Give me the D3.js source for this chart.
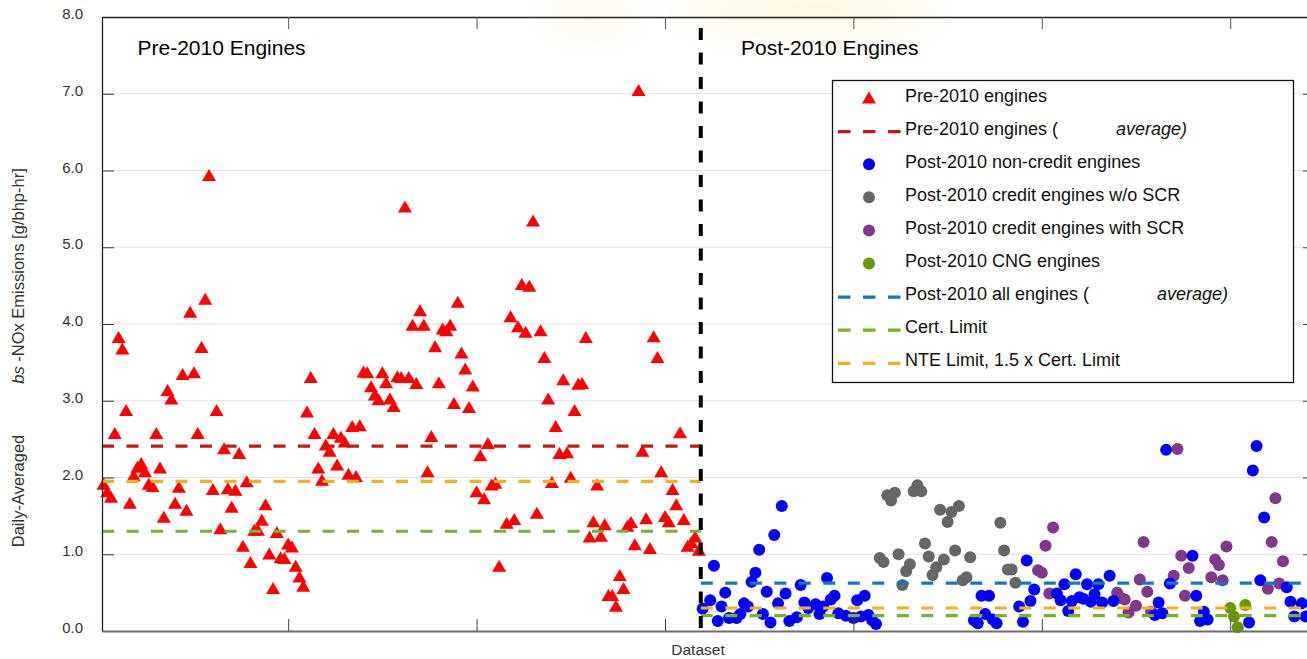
<!DOCTYPE html>
<html>
<head>
<meta charset="utf-8">
<script src="https://cdn.jsdelivr.net/npm/d3@7"></script>
<style>
  html, body { margin: 0; padding: 0; background: #fff; }
  svg { display: block; font-family: "Liberation Sans", Arial, Helvetica, sans-serif; }
</style>
</head>
<body>
<svg id="chart" width="1307" height="659"></svg>
<script>
// ---- data ---------------------------------------------------------------
const yTicks = [0, 1, 2, 3, 4, 5, 6, 7, 8];
const gridValues = [1, 2, 3, 4, 5, 6, 7];
const xTicks = [50, 100, 150, 200, 250, 300];

// [dataset number, daily-averaged bsNOx g/bhp-hr]
const preEngines = [
  [1,1.92],[2,1.82],[3,1.75],[4,2.58],[5,3.83],[6,3.68],[7,2.88],[8,1.67],[9,2.03],[10,2.14],
  [11,2.19],[12,2.08],[13,1.92],[14,1.89],[15,2.58],[16,2.13],[17,1.49],[18,3.14],[19,3.03],[20,1.67],
  [21,1.88],[22,3.35],[23,1.58],[24,4.16],[25,3.37],[26,2.58],[27,3.70],[28,4.33],[29,5.94],[30,1.85],
  [31,2.88],[32,1.34],[33,2.38],[34,1.86],[35,1.62],[36,1.84],[37,2.32],[38,1.11],[39,1.95],[40,0.90],
  [41,1.32],[42,1.32],[43,1.45],[44,1.65],[45,1.01],[46,0.56],[47,1.29],[48,0.96],[49,0.95],[50,1.14],
  [51,1.10],[52,0.85],[53,0.71],[54,0.59],[55,2.86],[56,3.31],[57,2.58],[58,2.13],[59,1.97],[60,2.43],
  [61,2.35],[62,2.58],[63,2.17],[64,2.53],[65,2.47],[66,2.05],[67,2.67],[68,2.02],[69,2.68],[70,3.38],
  [71,3.37],[72,3.19],[73,3.08],[74,3.02],[75,3.37],[76,3.24],[77,3.03],[78,2.93],[79,3.32],[80,3.31],
  [81,5.53],[82,3.31],[83,3.99],[84,3.23],[85,4.18],[86,3.99],[87,2.08],[88,2.54],[89,3.71],[90,3.24],
  [91,3.94],[92,3.92],[93,3.99],[94,2.97],[95,4.29],[96,3.63],[97,3.42],[98,2.92],[99,3.20],[100,1.82],
  [101,2.29],[102,1.73],[103,2.45],[104,1.91],[105,1.93],[106,0.85],[108,1.41],[109,4.10],[110,1.46],
  [111,3.97],[112,4.52],[113,3.90],[114,4.50],[115,5.35],[116,1.54],[117,3.92],[118,3.57],[119,3.03],
  [120,1.94],[121,2.67],[122,2.32],[123,3.28],[124,2.33],[125,2.01],[126,2.88],[127,3.22],[128,3.23],
  [129,3.83],[130,1.23],[131,1.43],[132,1.91],[133,1.24],[134,1.39],[135,0.47],[136,0.47],[137,0.33],
  [138,0.73],[139,0.56],[140,1.37],[141,1.42],[142,1.13],[143,7.05],[144,2.35],[145,1.47],[146,1.08],
  [147,3.84],[148,3.57],[149,2.08],[150,1.50],[151,1.43],[152,1.85],[153,1.65],[154,2.59],[155,1.46],
  [156,1.11],[157,1.16],[158,1.23],[159,1.06]
];

const postNonCredit = [
  [160,0.29],[162,0.40],[163,0.85],[164,0.13],[165,0.32],[166,0.50],[167,0.17],[169,0.17],[170,0.22],
  [171,0.36],[172,0.32],[173,0.64],[174,0.76],[175,1.06],[176,0.22],[177,0.51],[178,0.11],[179,1.25],
  [180,0.36],[181,1.63],[182,0.49],[183,0.13],[185,0.18],[186,0.60],[187,0.37],[188,0.30],[190,0.35],
  [191,0.22],[192,0.32],[193,0.69],[194,0.41],[195,0.46],[196,0.23],[198,0.20],[200,0.17],[201,0.40],
  [202,0.19],[203,0.46],[204,0.21],[205,0.14],[206,0.09],
  [232,0.14],[233,0.10],[234,0.46],[235,0.22],[236,0.46],[237,0.15],[238,0.10],
  [244,0.32],[245,0.12],[246,0.92],[247,0.39],[248,0.54],
  [254,0.49],[255,0.40],[256,0.61],[257,0.26],[258,0.39],[259,0.74],[260,0.44],[261,0.42],[262,0.61],
  [263,0.38],[264,0.48],[265,0.61],[266,0.37],[268,0.72],[269,0.39],
  [280,0.21],[281,0.37],[282,0.23],[283,2.36],[284,0.62],
  [290,0.98],[291,0.46],[292,0.13],[293,0.25],[294,0.15],
  [305,0.11],[306,2.09],[307,2.41],[308,0.66],[309,1.48],
  [315,0.57],[316,0.38],[317,0.19],[319,0.36],[320,0.19]
];

const postCreditNoScr = [
  [207,0.95],[208,0.90],[209,1.77],[210,1.70],[211,1.80],[212,1.00],[213,0.60],[214,0.78],[215,0.87],
  [216,1.82],[217,1.90],[218,1.82],[219,1.14],[220,0.97],[221,0.73],[222,0.83],[223,1.58],[224,0.93],
  [225,1.42],[226,1.55],[227,1.05],[228,1.63],[229,0.66],[230,0.70],[231,0.96],
  [239,1.41],[240,1.05],[241,0.80],[242,0.80],[243,0.63]
];

const postCreditScr = [
  [249,0.79],[250,0.76],[251,1.11],[252,0.49],[253,1.35],
  [270,0.50],[271,0.43],[272,0.41],[273,0.24],[275,0.33],[276,0.67],[277,1.16],[278,0.51],[279,0.25],
  [285,0.72],[286,2.37],[287,0.98],[288,0.46],[289,0.82],
  [295,0.70],[296,0.93],[297,0.86],[298,0.66],[299,1.10],
  [310,0.55],[311,1.16],[312,1.73],[313,0.62],[314,0.91]
];

const postCng = [[300,0.30],[301,0.19],[302,0.05],[304,0.34]];

// reference levels
const preAverage = 2.41;
const postAverage = 0.625;
const certLimitPre = 1.30;
const certLimitPost = 0.20;
const nteFactor = 1.5;
const splitAt = 159.5;

const colors = {
  pre: "#ff0000", nonCredit: "#0000ff", noScr: "#666666", scr: "#80378c", cng: "#669900",
  preAvg: "#cc1515", postAvg: "#1478c0", cert: "#78b030", nte: "#f0b020"
};

// ---- layout ---------------------------------------------------------------
const svg = d3.select("#chart");
const L = 102, R = 1315, T = 17, B = 631;
const x = d3.scaleLinear().domain([0.6, 322.5]).range([L, R]);
const y = d3.scaleLinear().domain([0, 8]).range([B, T]);

// faint background glow near the top
const defs = svg.append("defs");
defs.append("filter").attr("id", "soft").attr("x", "-50%").attr("y", "-50%").attr("width", "200%").attr("height", "200%")
  .append("feGaussianBlur").attr("stdDeviation", 18);
const glow = svg.append("g").attr("filter", "url(#soft)").attr("opacity", 0.12);
glow.append("ellipse").attr("cx", 810).attr("cy", 10).attr("rx", 130).attr("ry", 26).attr("fill", "#f3c640");
glow.append("ellipse").attr("cx", 590).attr("cy", 16).attr("rx", 45).attr("ry", 18).attr("fill", "#f3c640");

// horizontal grid
svg.append("g").selectAll("line").data(gridValues).join("line")
  .attr("x1", L).attr("x2", R)
  .attr("y1", d => y(d)).attr("y2", d => y(d))
  .attr("stroke", "#e2e2e2").attr("stroke-width", 1.2);

// ---- markers ---------------------------------------------------------------
const tri = "M0,-6L7,6L-7,6Z";
svg.append("g").selectAll("path").data(preEngines).join("path")
  .attr("d", tri)
  .attr("transform", d => `translate(${x(d[0])},${y(d[1])})`)
  .attr("fill", colors.pre);

function dots(data, color) {
  svg.append("g").selectAll("circle").data(data).join("circle")
    .attr("cx", d => x(d[0])).attr("cy", d => y(d[1])).attr("r", 6)
    .attr("fill", color);
}
dots(postCreditNoScr, colors.noScr);
dots(postCreditScr, colors.scr);
dots(postCng, colors.cng);
dots(postNonCredit, colors.nonCredit);

// ---- reference lines ---------------------------------------------------------
const refLines = [
  { from: 0.6, to: splitAt, v: preAverage, c: colors.preAvg },
  { from: 0.6, to: splitAt, v: certLimitPre * nteFactor, c: colors.nte },
  { from: 0.6, to: splitAt, v: certLimitPre, c: colors.cert },
  { from: splitAt, to: 322.5, v: postAverage, c: colors.postAvg },
  { from: splitAt, to: 322.5, v: certLimitPost * nteFactor, c: colors.nte },
  { from: splitAt, to: 322.5, v: certLimitPost, c: colors.cert }
];
svg.append("g").selectAll("line").data(refLines).join("line")
  .attr("x1", d => x(d.from)).attr("x2", d => x(d.to))
  .attr("y1", d => y(d.v)).attr("y2", d => y(d.v))
  .attr("stroke", d => d.c).attr("stroke-width", 3.2)
  .attr("stroke-dasharray", "12,12.5");

// ---- axes ---------------------------------------------------------------
const gLeft = svg.append("g").attr("transform", `translate(${L},0)`)
  .call(d3.axisLeft(y).tickValues(yTicks).tickSize(-12).tickSizeOuter(0).tickPadding(19).tickFormat(d3.format(".1f")));
gLeft.select(".domain").attr("stroke", "#222").attr("stroke-width", 1.3);
gLeft.selectAll(".tick line").attr("stroke", "#333");
gLeft.selectAll(".tick text").attr("fill", "#333").attr("font-size", 15)
  .attr("font-family", "Liberation Sans, Arial, sans-serif").attr("dy", "0.1em");

const gRight = svg.append("g").attr("transform", `translate(${R},0)`)
  .call(d3.axisRight(y).tickValues(yTicks).tickSize(-12).tickSizeOuter(0).tickFormat(""));
gRight.select(".domain").attr("stroke", "#222");
gRight.selectAll(".tick line").attr("stroke", "#444");

const gTop = svg.append("g").attr("transform", `translate(0,${T})`)
  .call(d3.axisTop(x).tickValues(xTicks).tickSize(-12).tickSizeOuter(0).tickFormat(""));
gTop.select(".domain").attr("stroke", "#222").attr("stroke-width", 1.3);
gTop.selectAll(".tick line").attr("stroke", "#555");

const gBottom = svg.append("g").attr("transform", `translate(0,${B})`)
  .call(d3.axisBottom(x).tickValues(xTicks).tickSize(-12).tickSizeOuter(0).tickFormat(""));
gBottom.select(".domain").attr("stroke", "#6e6e6e").attr("stroke-width", 2.2);
gBottom.selectAll(".tick line").attr("stroke", "#444");

// pre / post divider
svg.append("line")
  .attr("x1", x(splitAt)).attr("x2", x(splitAt))
  .attr("y1", 28).attr("y2", B)
  .attr("stroke", "#000").attr("stroke-width", 4)
  .attr("stroke-dasharray", "12,12.5");

// ---- text ---------------------------------------------------------------
svg.append("text").attr("x", 137.5).attr("y", 55).attr("font-size", 21).attr("fill", "#000")
  .text("Pre-2010 Engines");
svg.append("text").attr("x", 741).attr("y", 55).attr("font-size", 21).attr("fill", "#000")
  .text("Post-2010 Engines");

svg.append("text").attr("x", 698).attr("y", 655).attr("text-anchor", "middle")
  .attr("font-size", 15.5).attr("fill", "#333").text("Dataset");

svg.append("text").attr("transform", "translate(24,491) rotate(-90)")
  .attr("text-anchor", "middle").attr("font-size", 16.5).attr("fill", "#333")
  .text("Daily-Averaged");
const yt = svg.append("text").attr("transform", "translate(24,276) rotate(-90)")
  .attr("text-anchor", "middle").attr("font-size", 16.5).attr("fill", "#333");
yt.append("tspan").attr("font-style", "italic").text("bs");
yt.append("tspan").text(" -NOx Emissions [g/bhp-hr]");

// ---- legend ---------------------------------------------------------------
const legendItems = [
  { kind: "tri", c: colors.pre, label: "Pre-2010 engines" },
  { kind: "dash", c: colors.preAvg, label: "Pre-2010 engines (", italic: "average)", ix: 1116 },
  { kind: "dot", c: colors.nonCredit, label: "Post-2010 non-credit engines" },
  { kind: "dot", c: colors.noScr, label: "Post-2010 credit engines w/o SCR" },
  { kind: "dot", c: colors.scr, label: "Post-2010 credit engines with SCR" },
  { kind: "dot", c: colors.cng, label: "Post-2010 CNG engines" },
  { kind: "dash", c: colors.postAvg, label: "Post-2010 all engines (", italic: "average)", ix: 1157 },
  { kind: "dash", c: colors.cert, label: "Cert. Limit" },
  { kind: "dash", c: colors.nte, label: "NTE Limit, 1.5 x Cert. Limit" }
];
const lg = svg.append("g");
lg.append("rect").attr("x", 832.5).attr("y", 80.5).attr("width", 461).attr("height", 302)
  .attr("fill", "#fff").attr("stroke", "#111").attr("stroke-width", 1.3);
const rows = lg.selectAll("g.row").data(legendItems).join("g").attr("class", "row")
  .attr("transform", (d, i) => `translate(0,${101.5 + i * 33.1})`);
rows.each(function (d) {
  const g = d3.select(this);
  if (d.kind === "tri") {
    g.append("path").attr("d", tri).attr("transform", "translate(869,-4)").attr("fill", d.c);
  } else if (d.kind === "dot") {
    g.append("circle").attr("cx", 869).attr("cy", -3.5).attr("r", 6).attr("fill", d.c);
  } else {
    g.append("line").attr("x1", 838).attr("x2", 900.5).attr("y1", -3).attr("y2", -3)
      .attr("stroke", d.c).attr("stroke-width", 3.2).attr("stroke-dasharray", "12.5,12.5");
  }
  const t = g.append("text").attr("x", 905).attr("y", 0).attr("font-size", 18).attr("fill", "#111");
  t.append("tspan").text(d.label);
  if (d.italic) t.append("tspan").attr("x", d.ix).attr("font-style", "italic").text(d.italic);
});
</script>
</body>
</html>
